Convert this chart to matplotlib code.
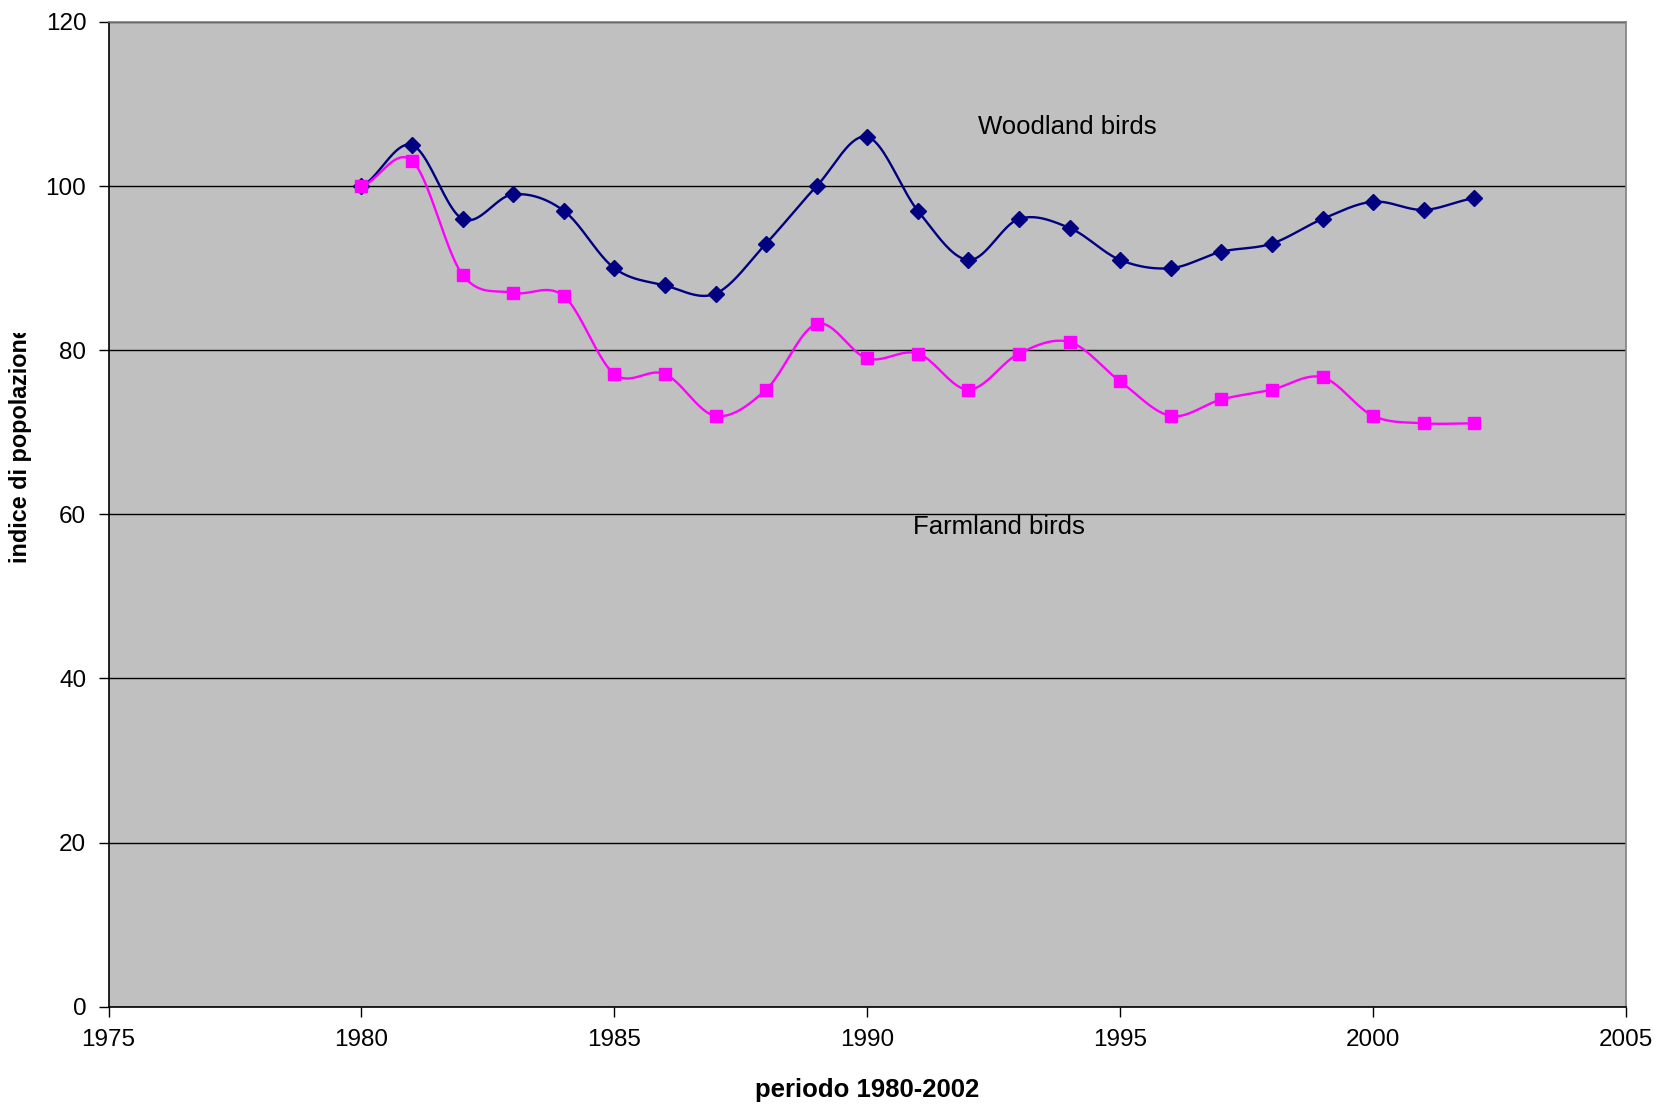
import numpy as np
import matplotlib
matplotlib.use("Agg")
import matplotlib.pyplot as plt
from matplotlib.transforms import Bbox
from matplotlib import font_manager as fm

years = list(range(1980, 2003))
woodland = [100, 105, 96, 99, 97, 90, 87.9, 86.9, 93, 100, 106, 97, 91, 96, 94.9,
            91, 90, 92, 93, 96, 98.1, 97.1, 98.5]
farmland = [100, 103.1, 89.2, 87, 86.6, 77.1, 77.1, 72, 75.2, 83.2, 79, 79.6, 75.2,
            79.6, 81, 76.2, 72, 74, 75.2, 76.7, 72, 71.1, 71.1]

xticks = [1975, 1980, 1985, 1990, 1995, 2000, 2005]
yticks = [0, 20, 40, 60, 80, 100, 120]

plt.rcParams["font.family"] = ["Liberation Sans", "DejaVu Sans"]


def bold_font(size):
    """Regular-width Liberation Sans Bold (avoid the Narrow variant)."""
    for f in fm.fontManager.ttflist:
        if (f.name == "Liberation Sans" and f.weight in (700, "bold")
                and f.style == "normal" and "Narrow" not in f.fname):
            return fm.FontProperties(fname=f.fname, size=size)
    return fm.FontProperties(family="DejaVu Sans", weight="bold", size=size)


def smooth(x, y, n=24):
    """Catmull-Rom curve through the points (same as a smoothed office line)."""
    x = np.asarray(x, float)
    y = np.asarray(y, float)
    px = np.concatenate([[2 * x[0] - x[1]], x, [2 * x[-1] - x[-2]]])
    py = np.concatenate([[y[0]], y, [y[-1]]])
    xs, ys = [], []
    t = np.linspace(0, 1, n, endpoint=False)
    for i in range(1, len(px) - 2):
        p0, p1, p2, p3 = (np.array([px[j], py[j]]) for j in range(i - 1, i + 3))
        b1 = p1 + (p2 - p0) / 6
        b2 = p2 - (p3 - p1) / 6
        pts = (((1 - t) ** 3)[:, None] * p1 + (3 * (1 - t) ** 2 * t)[:, None] * b1
               + (3 * (1 - t) * t ** 2)[:, None] * b2 + (t ** 3)[:, None] * p2)
        xs.extend(pts[:, 0])
        ys.extend(pts[:, 1])
    xs.append(x[-1])
    ys.append(y[-1])
    return np.array(xs), np.array(ys)


W, H = 1657, 1105
fig = plt.figure(figsize=(W / 100, H / 100), dpi=100)
fig.patch.set_facecolor("white")
left, right, top, bottom = 108.5, 1626, 22, 1006.7
ax = fig.add_axes([left / W, 1 - bottom / H, (right - left) / W, (bottom - top) / H])
ax.set_facecolor("#C0C0C0")

ax.set_xlim(1975, 2005)
ax.set_ylim(0, 120)
ax.set_xticks(xticks)
ax.set_yticks(yticks)
ax.yaxis.grid(True, color="black", linewidth=1.0)
ax.set_axisbelow(True)
ax.tick_params(axis="both", direction="out", length=7, width=1, color="black",
               labelsize=17.5, pad=9)

for s in ("left", "bottom"):
    ax.spines[s].set_color("black")
    ax.spines[s].set_linewidth(1.2)
for s in ("top", "right"):
    ax.spines[s].set_color("#808080")
    ax.spines[s].set_linewidth(1.2)

wx, wy = smooth(years, woodland)
fx, fy = smooth(years, farmland)
ax.plot(wx, wy, color="#000080", linewidth=1.7, zorder=3)
ax.plot(years, woodland, linestyle="none", marker="D", markersize=8,
        color="#000080", zorder=4)
ax.plot(fx, fy, color="#FF00FF", linewidth=1.7, zorder=3)
ax.plot(years, farmland, linestyle="none", marker="s", markersize=8.5,
        color="#FF00FF", zorder=4)

ax.text(1993.95, 107.2, "Woodland birds", fontsize=18.5, ha="center", va="center")
ax.text(1992.6, 58.5, "Farmland birds", fontsize=18.5, ha="center", va="center")

ax.set_xlabel("periodo 1980-2002", fontproperties=bold_font(18.5))
ax.xaxis.set_label_coords(0.5, (1006.7 - 1090) / (bottom - top), transform=ax.transAxes)
ax.xaxis.label.set_va("center")

ylab = fig.text(20 / W, 1 - 563 / H, "indice di popolazione", rotation=90,
                rotation_mode="anchor", ha="left", va="center",
                fontproperties=bold_font(16.8))
ylab.set_clip_box(Bbox.from_extents(0, 0, W, H - 333))
ylab.set_clip_on(True)

fig.savefig("out.png", dpi=100, facecolor="white")
